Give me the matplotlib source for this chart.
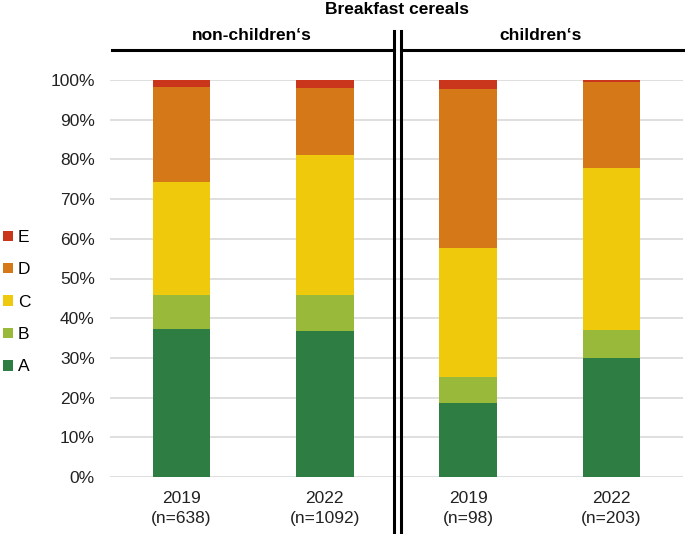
import matplotlib
matplotlib.use("Agg")
import matplotlib.pyplot as plt
from matplotlib.patches import Patch
from matplotlib.lines import Line2D
import numpy as np

plt.rcParams['font.family'] = ['Liberation Sans', 'DejaVu Sans']

categories = ["2019\n(n=638)", "2022\n(n=1092)", "2019\n(n=98)", "2022\n(n=203)"]
grades = ["A", "B", "C", "D", "E"]
A = [37.3, 36.9, 18.6, 30.1]
B = [8.5, 8.9, 6.6, 6.9]
C = [28.4, 35.3, 32.6, 40.8]
D = [24.1, 17.0, 40.0, 21.8]
E = [1.7, 1.9, 2.2, 0.4]
series = [A, B, C, D, E]
colors = ["#2e7d43", "#99b93a", "#efc90c", "#d57817", "#c9361c"]
group_labels = ["non-children\u2018s", "children\u2018s"]
title = "Breakfast cereals"

W, H = 685, 534
fig = plt.figure(figsize=(W/100, H/100), dpi=100)
ax = fig.add_axes([110/W, 1-477/H, (683-110)/W, (477-80)/H])

x = np.arange(len(categories))
bottom = np.zeros(len(categories))
for vals, col in zip(series, colors):
    v = np.array(vals) / 100.0
    ax.bar(x, v, width=0.4, bottom=bottom, color=col, zorder=3)
    bottom += v

ax.set_xlim(-0.5, 3.5)
ax.set_ylim(0, 1.0)
ax.set_yticks(np.arange(0, 1.01, 0.1))
ax.set_yticklabels([f"{int(round(t*100))}%" for t in np.arange(0, 1.01, 0.1)], fontsize=12.5)
ax.set_xticks(x)
ax.set_xticklabels(categories, fontsize=12.5, linespacing=1.45)
ax.tick_params(axis='both', length=0, colors='#222222')
ax.tick_params(axis='y', pad=11)
ax.tick_params(axis='x', pad=10)
for s in ax.spines.values():
    s.set_visible(False)
ax.yaxis.grid(True, color='#d9d9d9', linewidth=1.2, zorder=0)
ax.set_axisbelow(True)

# header lines
def fx(px): return px / W
def fy(py): return 1 - py / H
lw = 2.2
fig.add_artist(Line2D([fx(112), fx(394)], [fy(50), fy(50)], color='black', lw=lw))
fig.add_artist(Line2D([fx(401), fx(683)], [fy(50), fy(50)], color='black', lw=lw))
fig.add_artist(Line2D([fx(394), fx(394)], [fy(31), fy(534)], color='black', lw=lw))
fig.add_artist(Line2D([fx(401), fx(401)], [fy(31), fy(534)], color='black', lw=lw))

fig.text(fx(397), fy(10), title, ha='center', va='center', fontsize=12.5, fontweight='bold')
fig.text(fx(252), fy(36), group_labels[0], ha='center', va='center', fontsize=12.5, fontweight='bold')
fig.text(fx(541), fy(36), group_labels[1], ha='center', va='center', fontsize=12.5, fontweight='bold')

handles = [Patch(facecolor=c, edgecolor='none') for c in colors][::-1]
labels = grades[::-1]
fig.legend(handles, labels, loc='upper left', bbox_to_anchor=(fx(3), fy(230)),
           frameon=False, fontsize=12.5, handlelength=0.55, handleheight=0.55,
           handletextpad=0.3, labelspacing=1.0, borderaxespad=0, borderpad=0)

fig.savefig("out.png", dpi=100)
